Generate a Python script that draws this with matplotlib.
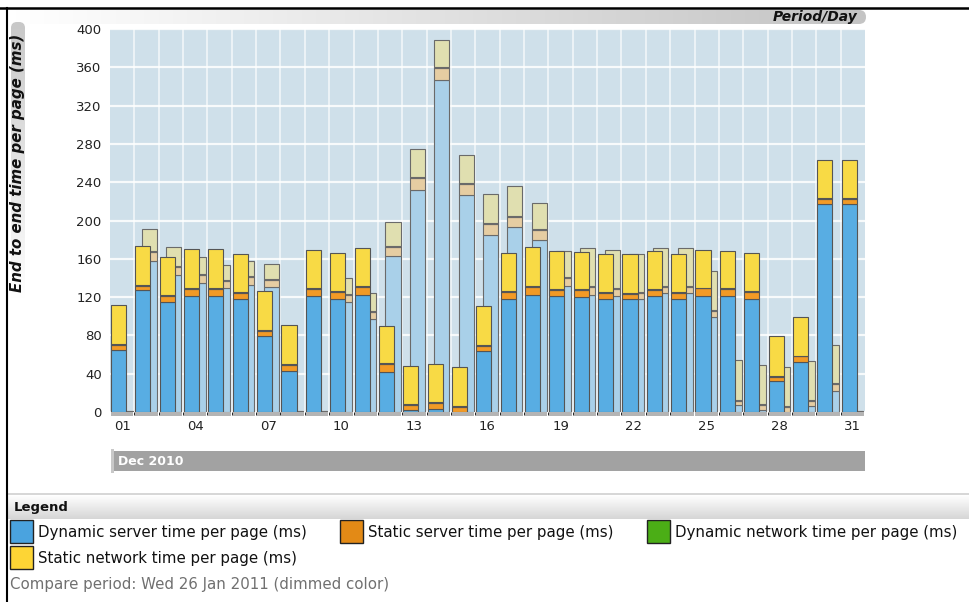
import numpy as np
import matplotlib
matplotlib.use("Agg")
import matplotlib.pyplot as plt
from matplotlib.patches import Rectangle, FancyBboxPatch

# Daily page timings, December 2010 (ms)
days = list(range(1, 32))
tick_days = [1, 4, 7, 10, 13, 16, 19, 22, 25, 28, 31]
tick_labels = ["01", "04", "07", "10", "13", "16", "19", "22", "25", "28", "31"]

dyn_server = [65, 127, 115, 121, 121, 118, 79, 43, 121, 118, 122, 42, 2, 3, 0.5, 64,
              118, 122, 121, 120, 118, 118, 121, 118, 121, 121, 118, 32, 52, 217, 217]
static_server = [5, 5, 6, 7, 7, 6, 6, 6, 7, 7, 9, 8, 5, 6, 5, 5,
                 7, 9, 6, 7, 6, 5, 6, 6, 8, 7, 7, 5, 6, 5, 5]
dyn_network = [1, 1, 1, 1, 1, 1, 1, 1, 1, 1, 1, 1, 1, 1, 1, 1,
               1, 1, 1, 1, 1, 1, 1, 1, 1, 1, 1, 1, 1, 1, 1]
static_network = [41, 40, 40, 41, 41, 40, 40, 41, 40, 40, 39, 39, 40, 40, 41, 41,
                  40, 40, 40, 39, 40, 41, 40, 40, 39, 39, 40, 41, 40, 40, 40]

# Compare period (Wed 26 Jan 2011), drawn dimmed
cmp_dyn_server = [0, 158, 143, 135, 129, 133, 131, 0, 0, 115, 97, 163, 232, 347, 227, 185,
                  193, 180, 132, 122, 121, 118, 124, 124, 99, 7, 2, 0.5, 6, 22, 0]
cmp_static_server = [0, 9, 8, 8, 8, 8, 7, 0, 0, 7, 7, 9, 12, 12, 11, 11,
                     11, 10, 8, 9, 7, 6, 7, 7, 7, 5, 5, 5, 6, 7, 0]
cmp_dyn_network = [1.5, 1, 1, 1, 1, 1, 1, 1.5, 1.5, 1, 1, 1, 1, 1, 1, 1,
                   1, 1, 1, 1, 1, 1, 1, 1, 1, 1, 1, 1, 1, 1, 1.5]
cmp_static_network = [0, 23, 20, 18, 16, 16, 16, 0, 0, 17, 19, 25, 30, 28, 29, 31,
                      31, 27, 27, 39, 40, 40, 39, 39, 40, 41, 41, 41, 40, 40, 0]

series_names = ["Dynamic server time per page (ms)", "Static server time per page (ms)",
                "Dynamic network time per page (ms)", "Static network time per page (ms)"]
colors = ["#58ade3", "#f29a26", "#1f3a0c", "#f8da45"]
dim_colors = ["#a9d0e9", "#e6cda2", "#222a1c", "#e0dfb0"]
legend_colors = ["#4aa3df", "#e38a16", "#4bae16", "#fdd535"]

W, H = 969, 602
fig = plt.figure(figsize=(W / 100, H / 100), dpi=100)
fig.patch.set_facecolor("white")

# pixel-space overlay for frame, strips and legend
bg = fig.add_axes([0, 0, 1, 1], zorder=0)
bg.set_xlim(0, W)
bg.set_ylim(H, 0)
bg.axis("off")


def gradient(ax, x0, y0, x1, y1, c0, c1, horizontal=True, rounded=None):
    n = 64
    t = np.linspace(0, 1, n)
    c0, c1 = np.array(matplotlib.colors.to_rgb(c0)), np.array(matplotlib.colors.to_rgb(c1))
    cols = c0[None, :] * (1 - t[:, None]) + c1[None, :] * t[:, None]
    img = cols[None, :, :] if horizontal else cols[:, None, :]
    im = ax.imshow(img, extent=(x0, x1, y1, y0), aspect="auto", origin="upper",
                   interpolation="bilinear", zorder=1)
    if rounded is not None:
        clip = FancyBboxPatch((x0, y0), x1 - x0, y1 - y0, boxstyle=rounded,
                              transform=ax.transData, facecolor="none", edgecolor="none")
        ax.add_patch(clip)
        im.set_clip_path(clip)
    return im


# outer frame
bg.plot([0, W], [8, 8], color="black", lw=1.8, zorder=5)
bg.plot([7, 7], [8, H], color="black", lw=1.5, zorder=5)

# header strip with period label
gradient(bg, 9, 10, 866, 24, "#ffffff", "#c4c4c4", rounded="round,pad=0,rounding_size=7")
bg.text(857, 17, "Period/Day", ha="right", va="center", fontsize=10,
        fontweight="bold", fontstyle="italic", color="#111111", zorder=3)

# y-axis title strip
gradient(bg, 11, 22, 25, 300, "#c8c8c8", "#ffffff", horizontal=False,
         rounded="round,pad=0,rounding_size=6")
bg.text(18, 163, "End to end time per page (ms)", ha="center", va="center",
        rotation=90, fontsize=10.8, fontweight="bold", fontstyle="italic",
        color="#111111", zorder=3)

# month bar
bg.add_patch(Rectangle((112, 451), 753, 20, facecolor="#a2a2a2", edgecolor="none", zorder=2))
bg.add_patch(Rectangle((111, 449), 3, 24, facecolor="#c8c8c8", edgecolor="none", zorder=3))
bg.text(118, 461.5, "Dec 2010", ha="left", va="center", fontsize=9,
        fontweight="bold", color="white", zorder=4)

# legend band
bg.plot([8, W], [494, 494], color="#d0d0d0", lw=1.2, zorder=3)
gradient(bg, 8, 495, W, 519, "#ffffff", "#d6d6d6", horizontal=False)
bg.text(14, 507, "Legend", ha="left", va="center", fontsize=9.5,
        fontweight="bold", color="#111111", zorder=3)

legend_pos = [(10, 520), (340, 520), (647, 520), (10, 546)]
for (lx, ly), name, col in zip(legend_pos, series_names, legend_colors):
    bg.add_patch(Rectangle((lx, ly), 23, 23, facecolor=col, edgecolor="#222222",
                           lw=1.0, zorder=3))
    bg.text(lx + 28, ly + 12, name, ha="left", va="center", fontsize=10.8,
            color="#111111", zorder=3)

bg.text(10, 585, "Compare period: Wed 26 Jan 2011 (dimmed color)", ha="left",
        va="center", fontsize=10.8, color="#707070", zorder=3)

# main chart
ax = fig.add_axes([110 / W, 1 - 412 / H, 755 / W, 383 / H], zorder=1)
ax.set_facecolor("#cfe0ea")
ax.set_xlim(0.5, 31.5)
ax.set_ylim(0, 400)
for s in ax.spines.values():
    s.set_visible(False)

ax.set_yticks(np.arange(0, 401, 40))
ax.set_xticks(tick_days)
ax.set_xticklabels(tick_labels)
ax.tick_params(length=0, labelsize=9.5, labelcolor="#222222", pad=6)
ax.tick_params(axis="x", pad=6)
ax.set_axisbelow(True)
ax.set_xticks(np.arange(1.5, 31, 1), minor=True)
ax.grid(True, which="major", axis="y", color="white", lw=1.6, alpha=0.85)
ax.grid(True, which="minor", axis="x", color="white", lw=1.2, alpha=0.7)

x = np.array(days, dtype=float)
bw = 0.62

# floor shadow under each day
ax.bar(x, 4, bottom=-4.5, width=0.92, color="#b4b4b4", edgecolor="none",
       clip_on=False, zorder=1)

# compare period behind
bottom = np.zeros(len(days))
for vals, col in zip([cmp_dyn_server, cmp_static_server, cmp_dyn_network, cmp_static_network],
                     dim_colors):
    v = np.array(vals, dtype=float)
    ax.bar(x + 0.12, v, bottom=bottom, width=bw, color=col,
           edgecolor="#6a6a6a", lw=0.8, zorder=2)
    bottom += v

# current period in front
bottom = np.zeros(len(days))
for vals, col in zip([dyn_server, static_server, dyn_network, static_network], colors):
    v = np.array(vals, dtype=float)
    ax.bar(x - 0.15, v, bottom=bottom, width=bw, color=col,
           edgecolor="#555555", lw=0.8, zorder=3)
    bottom += v

fig.savefig("out.png", dpi=100)
